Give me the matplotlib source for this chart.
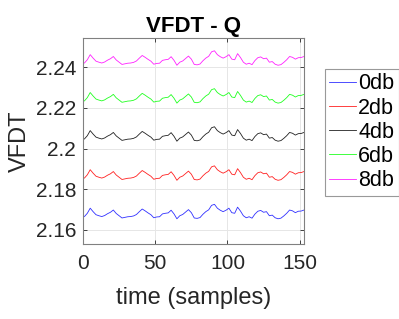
import numpy as np
import matplotlib
matplotlib.use('Agg')
import matplotlib.pyplot as plt

# sample index (every other sample)
t = np.arange(1, 154, 2)

db0 = [2.1666, 2.1682, 2.1707, 2.1690, 2.1675, 2.1670, 2.1666, 2.1671, 2.1680, 2.1687,
       2.1698, 2.1681, 2.1670, 2.1659, 2.1662, 2.1665, 2.1666, 2.1669, 2.1676, 2.1690,
       2.1703, 2.1694, 2.1684, 2.1675, 2.1660, 2.1664, 2.1665, 2.1679, 2.1682, 2.1684,
       2.1697, 2.1679, 2.1655, 2.1670, 2.1676, 2.1688, 2.1700, 2.1685, 2.1659, 2.1657,
       2.1661, 2.1677, 2.1690, 2.1699, 2.1721, 2.1726, 2.1707, 2.1697, 2.1690, 2.1697,
       2.1707, 2.1685, 2.1682, 2.1712, 2.1693, 2.1670, 2.1660, 2.1665, 2.1658, 2.1678,
       2.1692, 2.1696, 2.1687, 2.1690, 2.1670, 2.1673, 2.1660, 2.1655, 2.1658, 2.1669,
       2.1682, 2.1698, 2.1694, 2.1685, 2.1692, 2.1693, 2.1698]

db2 = [2.1855, 2.1871, 2.1896, 2.1879, 2.1864, 2.1859, 2.1855, 2.1860, 2.1869, 2.1876,
       2.1887, 2.1870, 2.1859, 2.1848, 2.1851, 2.1854, 2.1855, 2.1858, 2.1865, 2.1879,
       2.1892, 2.1883, 2.1873, 2.1864, 2.1849, 2.1853, 2.1854, 2.1868, 2.1871, 2.1873,
       2.1886, 2.1868, 2.1844, 2.1859, 2.1865, 2.1877, 2.1889, 2.1874, 2.1848, 2.1846,
       2.1850, 2.1866, 2.1879, 2.1888, 2.1910, 2.1915, 2.1896, 2.1886, 2.1879, 2.1886,
       2.1896, 2.1874, 2.1871, 2.1901, 2.1882, 2.1859, 2.1849, 2.1854, 2.1847, 2.1867,
       2.1881, 2.1885, 2.1876, 2.1879, 2.1859, 2.1862, 2.1849, 2.1844, 2.1847, 2.1858,
       2.1871, 2.1887, 2.1883, 2.1874, 2.1881, 2.1882, 2.1887]

db4 = [2.2047, 2.2063, 2.2088, 2.2071, 2.2056, 2.2051, 2.2047, 2.2052, 2.2061, 2.2068,
       2.2079, 2.2062, 2.2051, 2.2040, 2.2043, 2.2046, 2.2047, 2.2050, 2.2057, 2.2071,
       2.2084, 2.2075, 2.2065, 2.2056, 2.2041, 2.2045, 2.2046, 2.2060, 2.2063, 2.2065,
       2.2078, 2.2060, 2.2036, 2.2051, 2.2057, 2.2069, 2.2081, 2.2066, 2.2040, 2.2038,
       2.2042, 2.2058, 2.2071, 2.2080, 2.2102, 2.2107, 2.2088, 2.2078, 2.2071, 2.2078,
       2.2088, 2.2066, 2.2063, 2.2093, 2.2074, 2.2051, 2.2041, 2.2046, 2.2039, 2.2059,
       2.2073, 2.2077, 2.2068, 2.2071, 2.2051, 2.2054, 2.2041, 2.2036, 2.2039, 2.2050,
       2.2063, 2.2079, 2.2075, 2.2066, 2.2073, 2.2074, 2.2079]

db6 = [2.2234, 2.2250, 2.2275, 2.2258, 2.2243, 2.2238, 2.2234, 2.2239, 2.2248, 2.2255,
       2.2266, 2.2249, 2.2238, 2.2227, 2.2230, 2.2233, 2.2234, 2.2237, 2.2244, 2.2258,
       2.2271, 2.2262, 2.2252, 2.2243, 2.2228, 2.2232, 2.2233, 2.2247, 2.2250, 2.2252,
       2.2265, 2.2247, 2.2223, 2.2238, 2.2244, 2.2256, 2.2268, 2.2253, 2.2227, 2.2225,
       2.2229, 2.2245, 2.2258, 2.2267, 2.2289, 2.2294, 2.2275, 2.2265, 2.2258, 2.2265,
       2.2275, 2.2253, 2.2250, 2.2280, 2.2261, 2.2238, 2.2228, 2.2233, 2.2226, 2.2246,
       2.2260, 2.2264, 2.2255, 2.2258, 2.2238, 2.2241, 2.2228, 2.2223, 2.2226, 2.2237,
       2.2250, 2.2266, 2.2262, 2.2253, 2.2260, 2.2261, 2.2266]

db8 = [2.2420, 2.2436, 2.2461, 2.2444, 2.2429, 2.2424, 2.2420, 2.2425, 2.2434, 2.2441,
       2.2452, 2.2435, 2.2424, 2.2413, 2.2416, 2.2419, 2.2420, 2.2423, 2.2430, 2.2444,
       2.2457, 2.2448, 2.2438, 2.2429, 2.2414, 2.2418, 2.2419, 2.2433, 2.2436, 2.2438,
       2.2451, 2.2433, 2.2409, 2.2424, 2.2430, 2.2442, 2.2454, 2.2439, 2.2413, 2.2411,
       2.2415, 2.2431, 2.2444, 2.2453, 2.2475, 2.2480, 2.2461, 2.2451, 2.2444, 2.2451,
       2.2461, 2.2439, 2.2436, 2.2466, 2.2447, 2.2424, 2.2414, 2.2419, 2.2412, 2.2432,
       2.2446, 2.2450, 2.2441, 2.2444, 2.2424, 2.2427, 2.2414, 2.2409, 2.2412, 2.2423,
       2.2436, 2.2452, 2.2448, 2.2439, 2.2446, 2.2447, 2.2452]

series = [db0, db2, db4, db6, db8]
labels = ['0db', '2db', '4db', '6db', '8db']
colors = ['#3030ff', '#ff2020', '#202020', '#20ff20', '#ff20ff']

plt.rcParams['font.family'] = ['Liberation Sans', 'DejaVu Sans']

fig = plt.figure(figsize=(3.99, 3.19), dpi=100)
ax = fig.add_axes([0.208, 0.235, 0.554, 0.646])

for y, lab, c in zip(series, labels, colors):
    ax.plot(t, y, color=c, lw=0.6, label=lab)

ax.set_xlim(0, 153)
ax.set_ylim(2.1531, 2.2543)
ax.set_xticks([0, 50, 100, 150])
ax.set_yticks([2.16, 2.18, 2.2, 2.22, 2.24])
ax.set_yticklabels(['2.16', '2.18', '2.2', '2.22', '2.24'])
ax.grid(True, color='#e6e6e6', lw=0.7)
ax.set_axisbelow(True)
ax.tick_params(direction='in', length=3, width=0.6, top=True, right=True,
               labelsize=15, colors='#262626')
ax.tick_params(axis='x', pad=7)
ax.tick_params(axis='y', pad=5)
for s in ax.spines.values():
    s.set_color('#808080')
    s.set_linewidth(0.8)

ax.set_title('VFDT - Q', fontsize=16, fontweight='bold', pad=4.5)
ax.set_xlabel('time (samples)', fontsize=17, color='#262626', labelpad=10)
ax.set_ylabel('VFDT', fontsize=17, color='#262626', labelpad=3)

leg = fig.legend(loc='upper left', bbox_to_anchor=(325/399, 1 - 69/319),
                 fontsize=15.5, handlelength=1.25, handletextpad=0.1,
                 labelspacing=0.15, borderpad=0.2, borderaxespad=0,
                 fancybox=False, framealpha=1)
leg.get_frame().set_edgecolor('#999999')
leg.get_frame().set_linewidth(0.8)

fig.savefig('out.png', dpi=100)
